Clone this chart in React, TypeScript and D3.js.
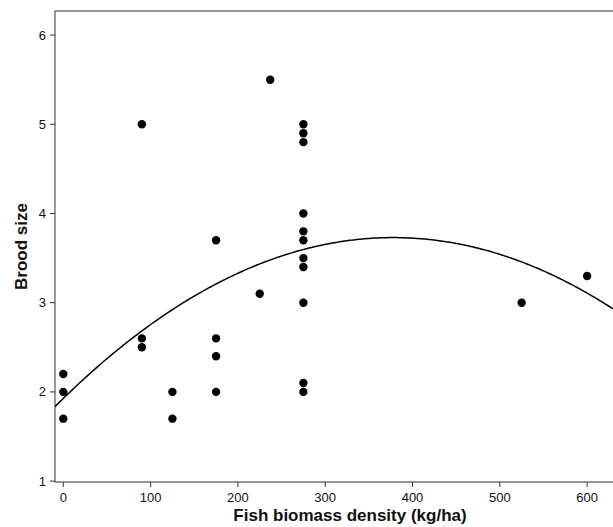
import React from "react";
import * as d3 from "d3";

const fishBiomass = [0, 0, 0, 90, 90, 90, 125, 125, 175, 175, 175, 175, 225, 237, 275, 275, 275, 275, 275, 275, 275, 275, 275, 275, 275, 525, 600];
const broodSize = [2.2, 2.0, 1.7, 5.0, 2.6, 2.5, 2.0, 1.7, 3.7, 2.6, 2.4, 2.0, 3.1, 5.5, 5.0, 4.9, 4.8, 4.0, 3.8, 3.7, 3.5, 3.4, 3.0, 2.1, 2.0, 3.0, 3.3];
const xTicks = [0, 100, 200, 300, 400, 500, 600];
const yTicks = [1, 2, 3, 4, 5, 6];
// quadratic fit coefficients: y = c0 + c1 x + c2 x^2
const fitCoefficients = [1.927, 0.00954, -1.262e-5];

const W = 613;
const H = 527;
const M = { left: 55, top: 11, right: 645, bottom: 482 };

export default function App() {
  const x = d3.scaleLinear().domain([-9.5, 666.3]).range([M.left, M.right]);
  const y = d3.scaleLinear().domain([0.99, 6.27]).range([M.bottom, M.top]);
  const [c0, c1, c2] = fitCoefficients;
  const xs = d3.range(-9.5, 667, 2);
  const line = d3
    .line<number>()
    .x((d) => x(d))
    .y((d) => y(c0 + c1 * d + c2 * d * d))
    .curve(d3.curveLinear);
  const font = "'Liberation Sans', Arial, sans-serif";
  return (
    <svg width={W} height={H} style={{ position: "absolute", left: 0, top: 0, background: "#fff" }}>
      <defs>
        <clipPath id="plot">
          <rect x={M.left} y={M.top} width={M.right - M.left} height={M.bottom - M.top} />
        </clipPath>
      </defs>
      <rect x={M.left} y={M.top} width={M.right - M.left} height={M.bottom - M.top} fill="none" stroke="#333" strokeWidth={1} />
      {yTicks.map((t) => (
        <g key={"y" + t}>
          <line x1={M.left - 5} x2={M.left} y1={y(t)} y2={y(t)} stroke="#333" />
          <text x={M.left - 9} y={y(t)} dy="0.35em" textAnchor="end" fontFamily={font} fontSize={13} fill="#111">
            {t}
          </text>
        </g>
      ))}
      {xTicks.map((t) => (
        <g key={"x" + t}>
          <line x1={x(t)} x2={x(t)} y1={M.bottom} y2={M.bottom + 5} stroke="#333" />
          <text x={x(t)} y={M.bottom + 20} textAnchor="middle" fontFamily={font} fontSize={13} fill="#111">
            {t}
          </text>
        </g>
      ))}
      <g clipPath="url(#plot)">
        <path d={line(xs) || ""} fill="none" stroke="#000" strokeWidth={1.5} />
        {fishBiomass.map((fx, i) => (
          <circle key={i} cx={x(fx)} cy={y(broodSize[i])} r={4.2} fill="#000" />
        ))}
      </g>
      <text x={350} y={521} textAnchor="middle" fontFamily={font} fontSize={17} fontWeight="bold" fill="#111">
        Fish biomass density (kg/ha)
      </text>
      <text
        transform={`translate(27,${(M.top + M.bottom) / 2}) rotate(-90)`}
        textAnchor="middle"
        fontFamily={font}
        fontSize={17}
        fontWeight="bold"
        fill="#111"
      >
        Brood size
      </text>
    </svg>
  );
}
